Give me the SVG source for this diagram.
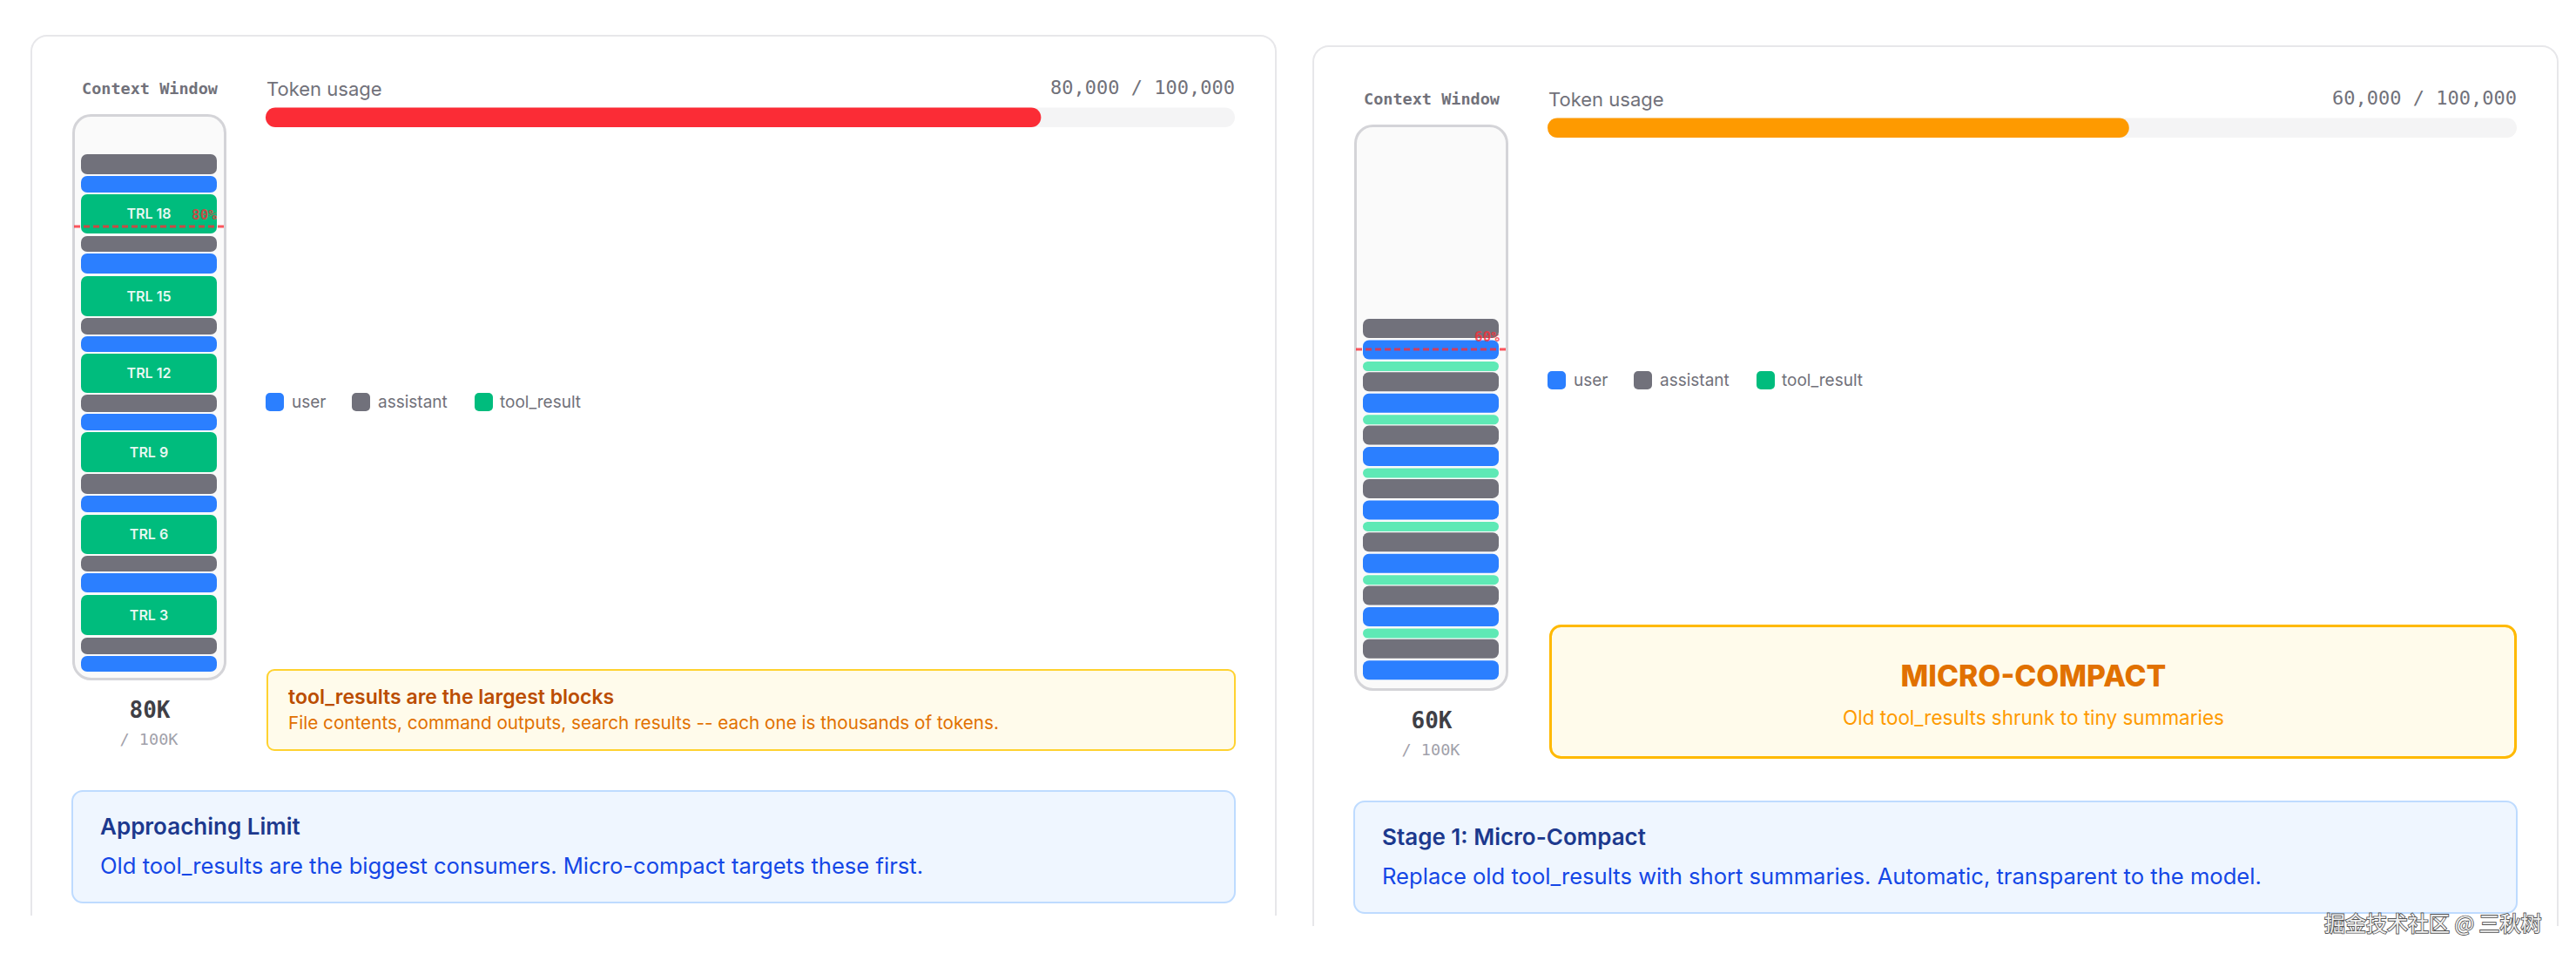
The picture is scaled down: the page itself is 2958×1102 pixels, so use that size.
<svg xmlns="http://www.w3.org/2000/svg" width="2958" height="1102" viewBox="0 0 2958 1102">
  <style>
    .card { fill: #ffffff; stroke: #e7e7ea; stroke-width: 2; }
    .cw-label { font-family: "DejaVu Sans Mono", "Liberation Mono", monospace; font-weight: bold; font-size: 18.5px; fill: #71717a; text-anchor: middle; }
    .container { fill: #fafafa; stroke: #d4d4d8; stroke-width: 3; }
    .b-gray { fill: #71717b; }
    .b-blue { fill: #2b7fff; }
    .b-green { fill: #00bc7d; }
    .b-lgreen { fill: #5ee9b5; }
    .trl { font-family: Inter, "Liberation Sans", sans-serif; font-weight: 600; font-size: 16px; fill: #ffffff; fill-opacity: 0.92; text-anchor: middle; }
    .limit { stroke: #fb2c36; stroke-opacity: 0.8; stroke-width: 3; stroke-dasharray: 7 4; fill: none; }
    .pct { font-family: "DejaVu Sans Mono", "Liberation Mono", monospace; font-weight: bold; font-size: 16px; fill: #fb2c36; fill-opacity: 0.8; text-anchor: end; }
    .big { font-family: "DejaVu Sans Mono", "Liberation Mono", monospace; font-weight: bold; font-size: 26px; fill: #3f3f46; text-anchor: middle; }
    .small { font-family: "DejaVu Sans Mono", "Liberation Mono", monospace; font-size: 18.5px; fill: #a1a1aa; text-anchor: middle; }
    .tu { font-family: Inter, "Liberation Sans", sans-serif; font-size: 22px; fill: #71717a; }
    .tn { font-family: "DejaVu Sans Mono", "Liberation Mono", monospace; font-size: 22px; fill: #71717a; text-anchor: end; }
    .track { fill: #f4f4f5; }
    .leg { font-family: Inter, "Liberation Sans", sans-serif; font-size: 19px; fill: #71717a; }
    .ybox { fill: #fffbeb; stroke: #ffd230; stroke-width: 2; }
    .ytitle { font-family: Inter, "Liberation Sans", sans-serif; font-weight: 600; font-size: 23px; fill: #bb4d00; }
    .ysub { font-family: Inter, "Liberation Sans", sans-serif; font-size: 20.7px; fill: #e17100; }
    .mbox { fill: #fffbeb; stroke: #ffb900; stroke-width: 3; }
    .mtitle { font-family: Inter, "Liberation Sans", sans-serif; font-weight: 800; font-size: 33.7px; fill: #e17100; text-anchor: middle; }
    .msub { font-family: Inter, "Liberation Sans", sans-serif; font-size: 22.5px; fill: #fe9a00; text-anchor: middle; }
    .bbox { fill: #eff6ff; stroke: #bedbff; stroke-width: 2; }
    .btitle { font-family: Inter, "Liberation Sans", sans-serif; font-weight: 600; font-size: 26px; fill: #1c398e; }
    .bbody { font-family: Inter, "Liberation Sans", sans-serif; font-size: 25.6px; fill: #1447e6; }
    .wm { font-family: "Noto Sans CJK SC", "Noto Sans", sans-serif; font-size: 24px; fill: #f2f2f2; stroke: #555555; stroke-width: 1.8; paint-order: stroke; }
  </style>

  <rect x="0" y="0" width="2958" height="1102" fill="#ffffff"/>

  <!-- LEFT PANEL -->
  <g id="panel-left">
    <path class="card" d="M36,1051 V59 A18,18 0 0 1 54,41 H1447 A18,18 0 0 1 1465,59 V1051"/>

    <g id="left-context-window">
      <text class="cw-label" x="172" y="108">Context Window</text>
      <rect class="container" x="84.5" y="132.5" width="174" height="647" rx="20"/>
      <rect class="b-gray" x="93" y="177" width="156" height="23" rx="7"/>
      <rect class="b-blue" x="93" y="202" width="156" height="19" rx="7"/>
      <rect class="b-green" x="93" y="223" width="156" height="45" rx="7"/>
      <text class="trl" x="171" y="251">TRL 18</text>
      <rect class="b-gray" x="93" y="271" width="156" height="18" rx="7"/>
      <rect class="b-blue" x="93" y="291" width="156" height="23" rx="7"/>
      <rect class="b-green" x="93" y="317" width="156" height="46" rx="7"/>
      <text class="trl" x="171" y="345.5">TRL 15</text>
      <rect class="b-gray" x="93" y="365" width="156" height="19" rx="7"/>
      <rect class="b-blue" x="93" y="386" width="156" height="18" rx="7"/>
      <rect class="b-green" x="93" y="406" width="156" height="45" rx="7"/>
      <text class="trl" x="171" y="434">TRL 12</text>
      <rect class="b-gray" x="93" y="453" width="156" height="20" rx="7"/>
      <rect class="b-blue" x="93" y="475" width="156" height="19" rx="7"/>
      <rect class="b-green" x="93" y="496" width="156" height="46" rx="7"/>
      <text class="trl" x="171" y="524.5">TRL 9</text>
      <rect class="b-gray" x="93" y="544" width="156" height="23" rx="7"/>
      <rect class="b-blue" x="93" y="569" width="156" height="19" rx="7"/>
      <rect class="b-green" x="93" y="591" width="156" height="45" rx="7"/>
      <text class="trl" x="171" y="619">TRL 6</text>
      <rect class="b-gray" x="93" y="638" width="156" height="18" rx="7"/>
      <rect class="b-blue" x="93" y="658" width="156" height="22" rx="7"/>
      <rect class="b-green" x="93" y="683" width="156" height="46" rx="7"/>
      <text class="trl" x="171" y="711.5">TRL 3</text>
      <rect class="b-gray" x="93" y="732" width="156" height="19" rx="7"/>
      <rect class="b-blue" x="93" y="753" width="156" height="18" rx="7"/>
      <line class="limit" x1="85" y1="260" x2="260" y2="260"/>
      <text class="pct" x="249" y="252">80%</text>
      <text class="big" x="172" y="824">80K</text>
      <text class="small" x="171" y="855">/ 100K</text>
    </g>

    <g id="left-token-usage">
      <text class="tu" x="306" y="110">Token usage</text>
      <text class="tn" x="1418" y="108">80,000 / 100,000</text>
      <rect class="track" x="305" y="123.5" width="1113" height="22.5" rx="11.25"/>
      <rect x="305" y="123.5" width="890.4" height="22.5" rx="11.25" fill="#fb2c36"/>
    </g>

    <g id="left-legend">
      <rect class="b-blue" x="305" y="451" width="21" height="21" rx="5"/>
      <text class="leg" x="335" y="468">user</text>
      <rect class="b-gray" x="404" y="451" width="21" height="21" rx="5"/>
      <text class="leg" x="434" y="468">assistant</text>
      <rect class="b-green" x="545" y="451" width="21" height="21" rx="5"/>
      <text class="leg" x="574" y="468">tool_result</text>
    </g>

    <g id="left-note">
      <rect class="ybox" x="307" y="769" width="1111" height="92" rx="8"/>
      <text class="ytitle" x="331" y="808">tool_results are the largest blocks</text>
      <text class="ysub" x="331" y="837">File contents, command outputs, search results -- each one is thousands of tokens.</text>
    </g>

    <g id="left-status">
      <rect class="bbox" x="83" y="908" width="1335" height="128" rx="12"/>
      <text class="btitle" x="115" y="958">Approaching Limit</text>
      <text class="bbody" x="115" y="1003">Old tool_results are the biggest consumers. Micro-compact targets these first.</text>
    </g>
  </g>

  <!-- RIGHT PANEL -->
  <g id="panel-right">
    <path class="card" d="M1508,1063 V71 A18,18 0 0 1 1526,53 H2919 A18,18 0 0 1 2937,71 V1063"/>

    <g id="right-context-window">
      <text class="cw-label" x="1644" y="120">Context Window</text>
      <rect class="container" x="1556.5" y="144.5" width="174" height="647" rx="20"/>
      <rect class="b-gray" x="1565" y="366" width="156" height="22" rx="7"/>
      <rect class="b-blue" x="1565" y="390.5" width="156" height="22" rx="7"/>
      <rect class="b-lgreen" x="1565" y="415" width="156" height="11" rx="5.5"/>
      <rect class="b-gray" x="1565" y="427.3" width="156" height="22" rx="7"/>
      <rect class="b-blue" x="1565" y="451.8" width="156" height="22" rx="7"/>
      <rect class="b-lgreen" x="1565" y="476.3" width="156" height="11" rx="5.5"/>
      <rect class="b-gray" x="1565" y="488.6" width="156" height="22" rx="7"/>
      <rect class="b-blue" x="1565" y="513.1" width="156" height="22" rx="7"/>
      <rect class="b-lgreen" x="1565" y="537.6" width="156" height="11" rx="5.5"/>
      <rect class="b-gray" x="1565" y="549.9" width="156" height="22" rx="7"/>
      <rect class="b-blue" x="1565" y="574.4" width="156" height="22" rx="7"/>
      <rect class="b-lgreen" x="1565" y="598.9" width="156" height="11" rx="5.5"/>
      <rect class="b-gray" x="1565" y="611.2" width="156" height="22" rx="7"/>
      <rect class="b-blue" x="1565" y="635.7" width="156" height="22" rx="7"/>
      <rect class="b-lgreen" x="1565" y="660.2" width="156" height="11" rx="5.5"/>
      <rect class="b-gray" x="1565" y="672.5" width="156" height="22" rx="7"/>
      <rect class="b-blue" x="1565" y="697" width="156" height="22" rx="7"/>
      <rect class="b-lgreen" x="1565" y="721.5" width="156" height="11" rx="5.5"/>
      <rect class="b-gray" x="1565" y="733.8" width="156" height="22" rx="7"/>
      <rect class="b-blue" x="1565" y="758.3" width="156" height="22" rx="7"/>
      <line class="limit" x1="1557" y1="401" x2="1732" y2="401"/>
      <text class="pct" x="1722" y="392">60%</text>
      <text class="big" x="1644" y="836">60K</text>
      <text class="small" x="1643" y="867">/ 100K</text>
    </g>

    <g id="right-token-usage">
      <text class="tu" x="1778" y="122">Token usage</text>
      <text class="tn" x="2890" y="120">60,000 / 100,000</text>
      <rect class="track" x="1777" y="135.5" width="1113" height="22.5" rx="11.25"/>
      <rect x="1777" y="135.5" width="667.8" height="22.5" rx="11.25" fill="#fe9a00"/>
    </g>

    <g id="right-legend">
      <rect class="b-blue" x="1777" y="426" width="21" height="21" rx="5"/>
      <text class="leg" x="1807" y="443">user</text>
      <rect class="b-gray" x="1876" y="426" width="21" height="21" rx="5"/>
      <text class="leg" x="1906" y="443">assistant</text>
      <rect class="b-green" x="2017" y="426" width="21" height="21" rx="5"/>
      <text class="leg" x="2046" y="443">tool_result</text>
    </g>

    <g id="right-micro-compact">
      <rect class="mbox" x="1780.5" y="718.5" width="1108" height="151" rx="12"/>
      <text class="mtitle" x="2335" y="788">MICRO-COMPACT</text>
      <text class="msub" x="2335" y="832">Old tool_results shrunk to tiny summaries</text>
    </g>

    <g id="right-status">
      <rect class="bbox" x="1555" y="920" width="1335" height="128" rx="12"/>
      <text class="btitle" x="1587" y="970">Stage 1: Micro-Compact</text>
      <text class="bbody" x="1587" y="1015">Replace old tool_results with short summaries. Automatic, transparent to the model.</text>
    </g>
  </g>

  <g id="connectors"/>

  <text class="wm" x="2669" y="1069">掘金技术社区 @ 三秋树</text>
</svg>
